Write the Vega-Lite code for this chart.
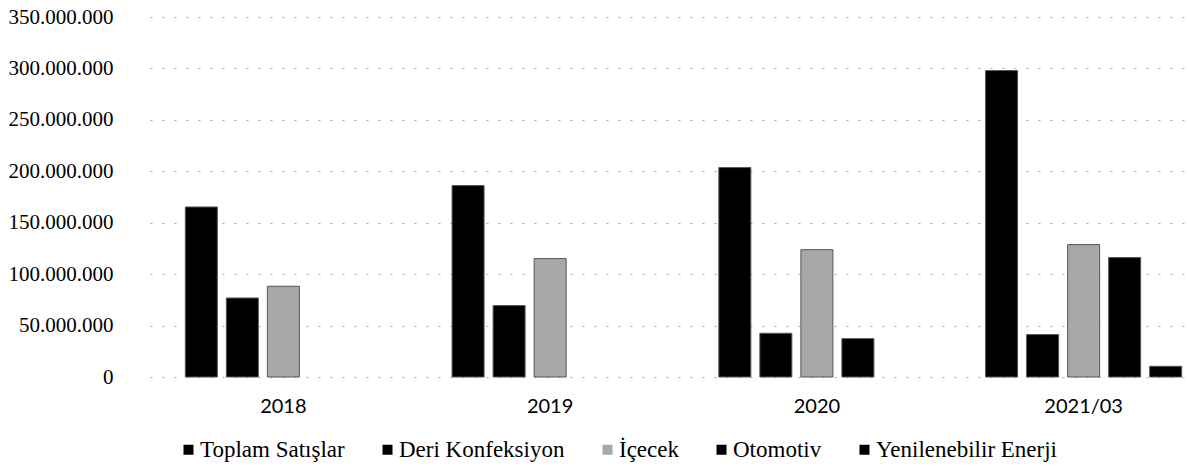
{
  "$schema": "https://vega.github.io/schema/vega-lite/v6.json",
  "width": 1038,
  "height": 360,
  "autosize": {"type": "none"},
  "padding": {"left": 150, "top": 17, "right": 0, "bottom": 99},
  "background": "white",
  "data": {
    "values": [
      {"period": "2018", "series": "Toplam Satışlar", "value": 165300000},
      {"period": "2018", "series": "Deri Konfeksiyon", "value": 76800000},
      {"period": "2018", "series": "İçecek", "value": 88200000},
      {"period": "2019", "series": "Toplam Satışlar", "value": 186100000},
      {"period": "2019", "series": "Deri Konfeksiyon", "value": 69400000},
      {"period": "2019", "series": "İçecek", "value": 115100000},
      {"period": "2020", "series": "Toplam Satışlar", "value": 203600000},
      {"period": "2020", "series": "Deri Konfeksiyon", "value": 42500000},
      {"period": "2020", "series": "İçecek", "value": 123800000},
      {"period": "2020", "series": "Otomotiv", "value": 37300000},
      {"period": "2021/03", "series": "Toplam Satışlar", "value": 297900000},
      {"period": "2021/03", "series": "Deri Konfeksiyon", "value": 41200000},
      {"period": "2021/03", "series": "İçecek", "value": 128700000},
      {"period": "2021/03", "series": "Otomotiv", "value": 116100000},
      {"period": "2021/03", "series": "Yenilenebilir Enerji", "value": 10400000}
    ]
  },
  "mark": {"type": "bar", "stroke": "#555555", "strokeWidth": 1},
  "encoding": {
    "x": {
      "field": "period",
      "type": "nominal",
      "sort": ["2018", "2019", "2020", "2021/03"],
      "scale": {"paddingInner": 0.231, "paddingOuter": 0.0611, "align": 0.945},
      "axis": {
        "title": null,
        "domain": false,
        "ticks": false,
        "labelAngle": 0,
        "labelFont": "Lato",
        "labelFontSize": 20,
        "labelColor": "#000000",
        "labelPadding": 19
      }
    },
    "xOffset": {
      "field": "series",
      "type": "nominal",
      "sort": ["Toplam Satışlar", "Deri Konfeksiyon", "İçecek", "Otomotiv", "Yenilenebilir Enerji"],
      "scale": {"paddingInner": 0.22, "paddingOuter": 0.11}
    },
    "y": {
      "field": "value",
      "type": "quantitative",
      "scale": {"domain": [0, 350000000], "nice": false},
      "axis": {
        "title": null,
        "domain": false,
        "ticks": false,
        "values": [0, 50000000, 100000000, 150000000, 200000000, 250000000, 300000000, 350000000],
        "labelExpr": "replace(format(datum.value, ',d'), regexp(',', 'g'), '.')",
        "labelFont": "Liberation Serif",
        "labelFontSize": 21,
        "labelColor": "#000000",
        "labelPadding": 37,
        "grid": true,
        "gridColor": "#a8a8a8",
        "gridDash": [2, 10],
        "gridWidth": 1
      }
    },
    "color": {
      "field": "series",
      "type": "nominal",
      "sort": ["Toplam Satışlar", "Deri Konfeksiyon", "İçecek", "Otomotiv", "Yenilenebilir Enerji"],
      "scale": {
        "domain": ["Toplam Satışlar", "Deri Konfeksiyon", "İçecek", "Otomotiv", "Yenilenebilir Enerji"],
        "range": ["#000000", "#000000", "#a8a8a8", "#000000", "#000000"]
      },
      "legend": {
        "title": null,
        "orient": "none",
        "direction": "horizontal",
        "legendX": 27,
        "legendY": 421,
        "padding": 0,
        "symbolType": "square",
        "symbolSize": 100,
        "symbolStrokeWidth": 0,
        "labelFont": "Liberation Serif",
        "labelFontSize": 23,
        "labelColor": "#000000",
        "labelOffset": 0,
        "columnPadding": 31,
        "labelLimit": 400
      }
    }
  },
  "config": {"view": {"stroke": null}}
}
